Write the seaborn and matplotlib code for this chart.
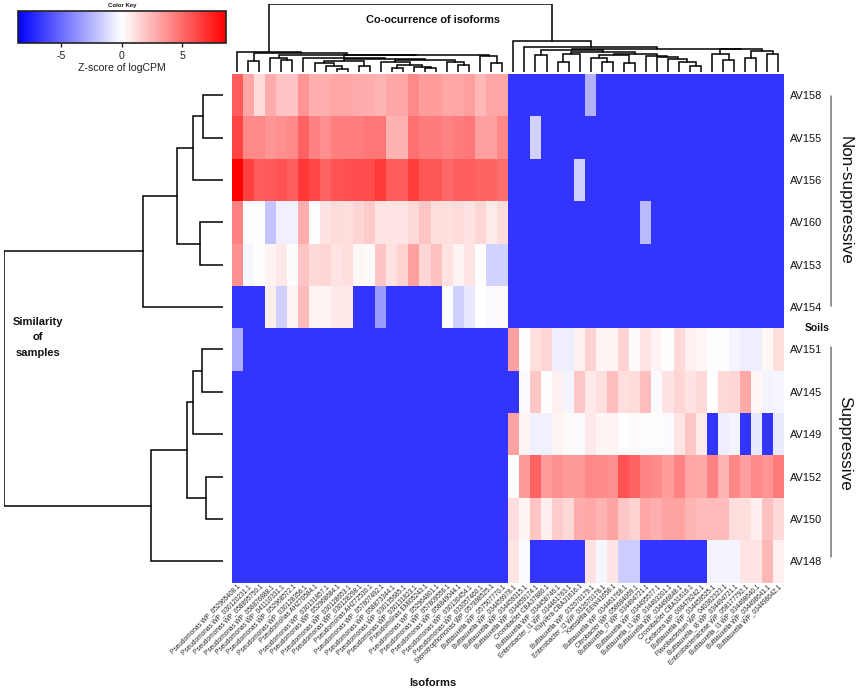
import matplotlib
matplotlib.use("Agg")
import matplotlib.pyplot as plt
import pandas as pd
import seaborn as sns

# sample names, top to bottom
samples = ["AV158", "AV155", "AV156", "AV160", "AV153", "AV154",
           "AV151", "AV145", "AV149", "AV152", "AV150", "AV148"]

isoforms_left = [
    "Pseudomonas WP_052965408.1", "Pseudomonas WP_030120231.1", "Pseudomonas WP_058895750.1",
    "Pseudomonas WP_058876888.1", "Pseudomonas WP_041110331.1", "Pseudomonas WP_052968572.1",
    "Pseudomonas WP_030128356.1", "Pseudomonas AHZ70584.1", "Pseudomonas WP_030131857.1",
    "Pseudomonas WP_052968684.1", "Pseudomonas WP_030128653.1", "Pseudomonas WP_030128298.1",
    "Pseudomonas AHZ72530.1", "Pseudomonas WP_057807492.1", "Pseudomonas WP_058873344.1",
    "Pseudomonas WP_030135685.1", "Pseudomonas WP_030131823.1", "Pseudomonas EMI05243.1",
    "Pseudomonas WP_052964801.1", "Pseudomonas WP_057809556.1", "Pseudomonas WP_058849044.1",
    "Pseudomonas WP_030130454.1", "Pseudomonas WP_033057460.1", "Stenotrophomonas WP_057898525.1",
    "Buttiauxella WP_057507770.1",
]
isoforms_right = [
    "Buttiauxella WP_034459978.1", "Buttiauxella WP_034459315.1", "Buttiauxella WP_034459174.1",
    "Cronobacter CBA37880.1", "Buttiauxella WP_034458746.1", "Enterobacter_I1 WP_034461763.1",
    "Kluyvera CBA31616.1", "Buttiauxella WP_032670179.1", "Enterobacter_I2 WP_032670178.1",
    "Klebsiella EEW41658.1", "Buttiauxella WP_034461768.1", "Citrobacter WP_058684069.1",
    "Buttiauxella_I7 WP_034494721.1", "Buttiauxella WP_034495577.1", "Buttiauxella_I1 WP_034493201.1",
    "Buttiauxella WP_034496848.1", "Cronobacter CBA31616.1", "Cedecea WP_008478242.1",
    "Buttiauxella WP_034459525.1", "Flavobacterium WP_040362323.1", "Buttiauxella_I8 WP_034494721.1",
    "Enterobacteriaceae WP_058177792.1", "Buttiauxella_I3 WP_034498640.1", "Buttiauxella WP_034498641.1",
    "Buttiauxella WP_034498642.1",
]

# z-scores, absent isoforms sit at LOW
LOW = -6.8
z_AV158 = [5.5, 3, 1.2, 2.8, 2, 2, 3.6, 2.7, 2.7, 3, 3, 2.8, 2.8, 2.5, 3, 3, 4, 3.3, 3.3, 3, 3, 3.2, 2.4, 3, 3,
           LOW, LOW, LOW, LOW, LOW, LOW, LOW, -2.6, LOW, LOW, LOW, LOW, LOW, LOW, LOW, LOW, LOW, LOW, LOW, LOW, LOW, LOW, LOW, LOW, LOW]
z_AV155 = [6.3, 4, 4, 3.5, 3.7, 4, 5.3, 4.2, 3.8, 4.3, 4.3, 4.4, 4.6, 4.6, 2.6, 2.6, 4.8, 4.4, 4.5, 4.2, 4.4, 4.6, 3.2, 3.2, 4,
           LOW, LOW, -1.5, LOW, LOW, LOW, LOW, LOW, LOW, LOW, LOW, LOW, LOW, LOW, LOW, LOW, LOW, LOW, LOW, LOW, LOW, LOW, LOW, LOW, LOW]
z_AV156 = [8.5, 6.4, 5.5, 5.6, 5.8, 5.4, 6.7, 6.2, 5.2, 5.8, 5.9, 6, 6, 6.6, 5.5, 5.5, 6.5, 5.7, 5.7, 5.1, 5.4, 5.4, 5.2, 5.2, 4.9,
           LOW, LOW, LOW, LOW, LOW, LOW, -1.6, LOW, LOW, LOW, LOW, LOW, LOW, LOW, LOW, LOW, LOW, LOW, LOW, LOW, LOW, LOW, LOW, LOW, LOW]
z_AV160 = [4.2, 0, 0, -2, -0.5, -0.5, 2.8, 0, 1, 1.2, 1.1, 1.4, 1.8, 0.9, 0.9, 0.9, 1.3, 2, 1.1, 1.1, 1.2, 1, 1.4, 0.7, 1.2,
           LOW, LOW, LOW, LOW, LOW, LOW, LOW, LOW, LOW, LOW, LOW, LOW, -2.3, LOW, LOW, LOW, LOW, LOW, LOW, LOW, LOW, LOW, LOW, LOW, LOW]
z_AV153 = [3.7, -0.3, -0.05, 0.4, 0.8, -0.1, 2, 1.3, 1.4, 1, 1.1, 0.3, 0.2, 2, 1, 1.5, 3.2, 1.4, 2.1, 1, 0.4, 0.9, 0, -1.5, -1.5,
           LOW, LOW, LOW, LOW, LOW, LOW, LOW, LOW, LOW, LOW, LOW, LOW, LOW, LOW, LOW, LOW, LOW, LOW, LOW, LOW, LOW, LOW, LOW, LOW, LOW]
z_AV154 = [LOW, LOW, LOW, 0.6, -1.6, 0.4, 2.3, 0.4, 0.4, 0.8, 0.8, LOW, LOW, -3.3, LOW, LOW, LOW, LOW, LOW, 0.05, -1.6, -0.8, 0, -0.2, 0.2,
           LOW, LOW, LOW, LOW, LOW, LOW, LOW, LOW, LOW, LOW, LOW, LOW, LOW, LOW, LOW, LOW, LOW, LOW, LOW, LOW, LOW, LOW, LOW, LOW, LOW]
z_AV151 = [-2.8, LOW, LOW, LOW, LOW, LOW, LOW, LOW, LOW, LOW, LOW, LOW, LOW, LOW, LOW, LOW, LOW, LOW, LOW, LOW, LOW, LOW, LOW, LOW, LOW,
           3.2, 0, 1.1, 1.4, -0.6, -0.6, 0.5, 1.5, 0.4, 0.4, 1.5, 0.2, 0.9, 0.4, 0, 1.3, 0.5, 0.3, 0.05, 0.05, -0.4, -0.6, -0.6, 0.3, 1.1]
z_AV145 = [LOW, LOW, LOW, LOW, LOW, LOW, LOW, LOW, LOW, LOW, LOW, LOW, LOW, LOW, LOW, LOW, LOW, LOW, LOW, LOW, LOW, LOW, LOW, LOW, LOW,
           LOW, -0.2, 1.9, 0, 0.5, -0.4, 1.9, 0.8, 1.1, 2.2, 1.1, 1.2, 2.2, -0.2, 1, 1.4, 1, 1.3, 0, 1.3, 1.4, 2.9, 0.3, -0.4, -0.3]
z_AV149 = [LOW, LOW, LOW, LOW, LOW, LOW, LOW, LOW, LOW, LOW, LOW, LOW, LOW, LOW, LOW, LOW, LOW, LOW, LOW, LOW, LOW, LOW, LOW, LOW, LOW,
           3.1, 0.4, -0.5, -0.5, 0.4, 0.2, -0.2, 0.8, 0.4, 0.4, 0, 0.2, 0, 0.1, -0.2, 0.9, 1.9, 0.7, LOW, -0.6, -0.4, LOW, -0.8, LOW, -0.7]
z_AV152 = [LOW, LOW, LOW, LOW, LOW, LOW, LOW, LOW, LOW, LOW, LOW, LOW, LOW, LOW, LOW, LOW, LOW, LOW, LOW, LOW, LOW, LOW, LOW, LOW, LOW,
           -0.05, 3.4, 5.3, 3.3, 3.7, 3.4, 3.4, 4, 3.9, 3.7, 5.8, 5.2, 4.1, 3.9, 3.3, 4.2, 3, 2.9, 4.2, 2.5, 4, 3.2, 3.9, 3.6, 4.4]
z_AV150 = [LOW, LOW, LOW, LOW, LOW, LOW, LOW, LOW, LOW, LOW, LOW, LOW, LOW, LOW, LOW, LOW, LOW, LOW, LOW, LOW, LOW, LOW, LOW, LOW, LOW,
           1.1, 0.4, 2, 0.6, 1.7, 1.3, 2.8, 2.9, 2.6, 3.1, 1.9, 1.5, 3, 2.7, 3.1, 3.1, 2.5, 2.3, 2.3, 2.3, 1.1, 1.1, 0.6, 2.1, 1.3]
z_AV148 = [LOW, LOW, LOW, LOW, LOW, LOW, LOW, LOW, LOW, LOW, LOW, LOW, LOW, LOW, LOW, LOW, LOW, LOW, LOW, LOW, LOW, LOW, LOW, LOW, LOW,
           0.9, -0.2, LOW, LOW, LOW, LOW, LOW, 1, -0.3, 0.9, -1.7, -1.7, LOW, LOW, LOW, LOW, LOW, LOW, -0.4, -0.4, -0.4, 0.9, 0.9, 2.4, 0.5]

# dendrograms as (left, right, merge height), leaves are row/column indexes
row_upper = (((0, 1, 20), 2, 30), (3, 4, 23), 46)
row_upper = (row_upper, 5, 80)
row_lower = (((6, 7, 21), 8, 30), (9, 10, 17), 36)
row_lower = (row_lower, 11, 72)
row_tree = (row_upper, row_lower, 219)

q1 = ((7, (8, (9, 10, 3.3), 6), 9), (11, 12, 6), 11.5)
e = (13, ((14, 15, 4), (16, (17, 18, 4), 5.5), 7), 10)
f = (19, (20, 21, 7), 10)
q = (q1, (e, f, 12.2), 13.5)
m = ((6, q, 14.5), (22, (23, 24, 9.3), 15.7), 16.7)
n = ((3, (4, 5, 12), 14.5), m, 17.5)
col_left = (0, ((1, 2, 11), n, 18.8), 20.5)

d2 = ((29, 30, 9.7), 31, 18)
v12 = ((32, (33, 34, 9.7), 13.7), (35, 36, 8.7), 17)
steps = (37, (38, (39, (40, (41, 42, 6.3), 10), 13), 14.7), 16)
w = (d2, (v12, steps, 18.5), 20.5)
g1 = (43, (44, 45, 12), 18)
g2 = ((46, 47, 13.7), (48, 49, 18), 21.3)
col_right = (((27, 28, 17), w, 22), (g1, g2, 23), 23.5)
col_right = (25, (26, col_right, 24.7), 31)
col_tree = (col_left, col_right, 68)

W, H = 856, 690


def px_axes(fig, x0, y0, x1, y1):
    # axes from pixel corners, y counted from the top
    return fig.add_axes([x0 / W, 1 - y1 / H, (x1 - x0) / W, (y1 - y0) / H])


def draw_tree(ax, node, vertical):
    # returns leaf-axis position and height of a node, drawing on the way
    if not isinstance(node, tuple):
        return node + 0.5, 0
    p1, h1 = draw_tree(ax, node[0], vertical)
    p2, h2 = draw_tree(ax, node[1], vertical)
    h = node[2]
    xs, ys = [p1, p1, p2, p2], [h1, h, h, h2]
    if vertical:
        ax.plot(xs, ys, color="black", lw=1.1, solid_joinstyle="miter")
    else:
        ax.plot(ys, xs, color="black", lw=1.1, solid_joinstyle="miter")
    return (p1 + p2) / 2, h


sns.set_theme(style="white")
plt.rcParams["font.family"] = ["Liberation Sans", "DejaVu Sans"]
plt.rcParams["axes.unicode_minus"] = False

data = pd.DataFrame(
    [z_AV158, z_AV155, z_AV156, z_AV160, z_AV153, z_AV154,
     z_AV151, z_AV145, z_AV149, z_AV152, z_AV150, z_AV148],
    index=samples, columns=isoforms_left + isoforms_right)

fig = plt.figure(figsize=(W / 100, H / 100), dpi=100)
ax_heat = px_axes(fig, 231.7, 74, 784, 582.5)
ax_key = px_axes(fig, 17.5, 10.7, 226, 43.3)
ax_top = px_axes(fig, 231.7, 4, 784, 72)
ax_left = px_axes(fig, 4, 74, 223, 582.5)

sns.heatmap(data, ax=ax_heat, cmap="bwr", vmin=-8.6, vmax=8.6,
            xticklabels=True, yticklabels=True, cbar_ax=ax_key,
            cbar_kws={"orientation": "horizontal", "ticks": [-5, 0, 5]})
ax_heat.yaxis.tick_right()
ax_heat.tick_params(axis="y", length=0, labelsize=7.9, labelrotation=0, pad=4.5, labelcolor="#111111")
ax_heat.tick_params(axis="x", length=0, pad=0.5)
for lab in ax_heat.get_xticklabels():
    lab.set(rotation=45, ha="right", va="top", rotation_mode="anchor", fontsize=4.7, color="#222222")

cbar = ax_heat.collections[0].colorbar
cbar.outline.set_edgecolor("#222222")
cbar.outline.set_linewidth(1.2)
ax_key.tick_params(axis="x", length=3, width=1, bottom=True, labelsize=7.6, pad=2.5, labelcolor="#222222")
ax_key.set_xlabel("Z-score of logCPM", fontsize=7.6, labelpad=1.5, color="#222222")

draw_tree(ax_top, col_tree, True)
ax_top.set_xlim(0, 50)
ax_top.set_ylim(0, 68.5)
ax_top.axis("off")

draw_tree(ax_left, row_tree, False)
ax_left.set_ylim(12, 0)
ax_left.set_xlim(219, 0)
ax_left.axis("off")


def put(x, y, text, **kw):
    fig.text(x / W, 1 - y / H, text, ha="center", va="center", color="#111111", **kw)


put(122, 5.5, "Color Key", fontsize=4.3, fontweight="bold")
put(433.5, 20, "Co-ocurrence of isoforms", fontsize=7.9, fontweight="bold")
put(433, 683, "Isoforms", fontsize=8, fontweight="bold")
put(38, 322, "Similarity", fontsize=8, fontweight="bold")
put(38, 337, "of", fontsize=8, fontweight="bold")
put(38, 353, "samples", fontsize=8, fontweight="bold")
put(817, 328, "Soils", fontsize=7.5, fontweight="bold")
put(845, 200, "Non-suppressive", fontsize=12.3, rotation=270)
put(845, 443, "Suppressive", fontsize=12.3, rotation=270)

# side brackets for the two soil groups
fig.add_artist(plt.Line2D([831 / W, 831 / W], [1 - 96 / H, 1 - 306 / H], color="#777777", lw=1.1))
fig.add_artist(plt.Line2D([831 / W, 831 / W], [1 - 347 / H, 1 - 557 / H], color="#777777", lw=1.1))

fig.savefig("out.png", dpi=100)
